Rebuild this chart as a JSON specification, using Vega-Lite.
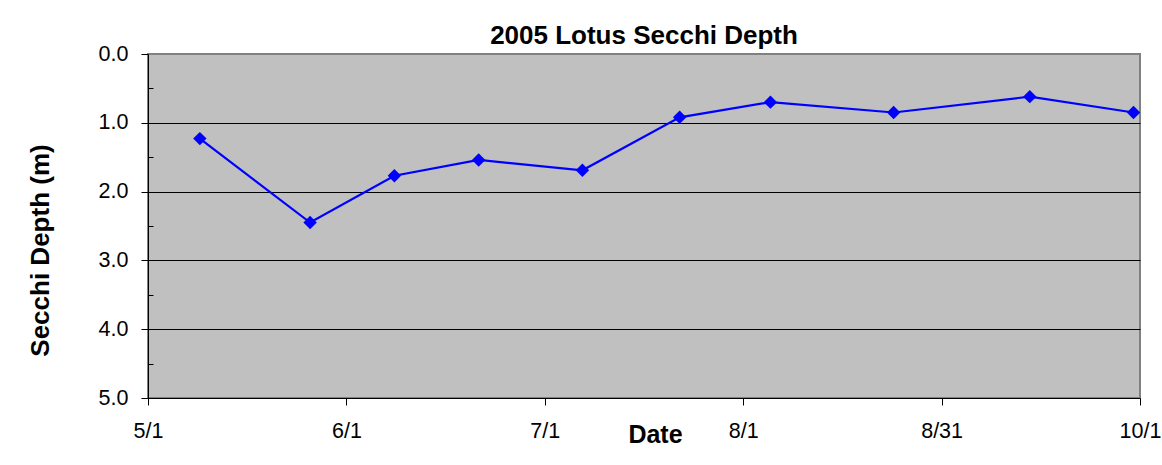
{
  "$schema": "https://vega.github.io/schema/vega-lite/v6.json",
  "width": 992,
  "height": 344,
  "autosize": {"type": "none"},
  "padding": {"left": 148, "top": 54, "right": 22, "bottom": 67},
  "background": "white",
  "config": {
    "view": {"fill": "#C0C0C0", "stroke": "#808080", "strokeWidth": 2},
    "font": "Liberation Sans"
  },
  "title": {
    "text": "2005 Lotus Secchi Depth",
    "font": "Liberation Sans",
    "fontSize": 26,
    "fontWeight": "bold",
    "color": "black",
    "anchor": "middle",
    "baseline": "alphabetic",
    "offset": 10,
    "dy": 37
  },
  "data": {
    "values": [
      {"date": "2005-05-09", "depth": 1.23},
      {"date": "2005-05-26", "depth": 2.45},
      {"date": "2005-06-08", "depth": 1.77},
      {"date": "2005-06-21", "depth": 1.54},
      {"date": "2005-07-07", "depth": 1.69},
      {"date": "2005-07-22", "depth": 0.92},
      {"date": "2005-08-05", "depth": 0.70},
      {"date": "2005-08-24", "depth": 0.85},
      {"date": "2005-09-14", "depth": 0.62},
      {"date": "2005-09-30", "depth": 0.85}
    ]
  },
  "encoding": {
    "x": {
      "field": "date",
      "type": "temporal",
      "scale": {
        "type": "utc",
        "domain": [
          {"year": 2005, "month": 5, "date": 1, "utc": true},
          {"year": 2005, "month": 10, "date": 1, "utc": true}
        ]
      },
      "axis": {
        "title": "Date",
        "values": [
          {"year": 2005, "month": 5, "date": 1, "utc": true},
          {"year": 2005, "month": 5, "date": 31, "hours": 14, "minutes": 24, "utc": true},
          {"year": 2005, "month": 7, "date": 1, "hours": 4, "minutes": 48, "utc": true},
          {"year": 2005, "month": 7, "date": 31, "hours": 19, "minutes": 12, "utc": true},
          {"year": 2005, "month": 8, "date": 31, "hours": 9, "minutes": 36, "utc": true},
          {"year": 2005, "month": 10, "date": 1, "utc": true}
        ],
        "labelExpr": "utcFormat(datum.value + 43200000, '%-m/%-d')",
        "grid": false,
        "labelFont": "Liberation Sans",
        "labelFontSize": 21.5,
        "labelColor": "black",
        "labelPadding": 15,
        "labelOverlap": false,
        "labelBound": false,
        "labelFlush": false,
        "tickColor": "black",
        "tickSize": 7,
        "domainColor": "black",
        "titleFont": "Liberation Sans",
        "titleFontSize": 25,
        "titleFontWeight": "bold",
        "titleColor": "black",
        "titleX": 507,
        "titleY": 44,
        "titleBaseline": "alphabetic",
        "titleAlign": "center"
      }
    },
    "y": {
      "field": "depth",
      "type": "quantitative",
      "scale": {"domain": [0, 5], "reverse": true, "nice": false, "zero": false},
      "axis": {
        "title": "Secchi Depth (m)",
        "values": [0, 0.5, 1, 1.5, 2, 2.5, 3, 3.5, 4, 4.5, 5],
        "labelExpr": "datum.value % 1 === 0 ? format(datum.value, '.1f') : ''",
        "grid": true,
        "gridColor": "black",
        "gridOpacity": {"condition": {"test": "datum.value > 0 && datum.value < 5 && datum.value % 1 === 0", "value": 1}, "value": 0},
        "tickSize": {"condition": {"test": "datum.value % 1 !== 0", "value": -5}, "value": 7},
        "tickColor": "black",
        "domainColor": "black",
        "labelFont": "Liberation Sans",
        "labelFontSize": 21.5,
        "labelColor": "black",
        "labelPadding": 13,
        "labelOverlap": false,
        "labelBound": false,
        "labelFlush": false,
        "titleFont": "Liberation Sans",
        "titleFontSize": 26,
        "titleFontWeight": "bold",
        "titleColor": "black",
        "titleAngle": -90,
        "titleX": -108,
        "titleY": 196,
        "titleAlign": "center",
        "titleBaseline": "middle"
      }
    }
  },
  "layer": [
    {"mark": {"type": "line", "color": "#0000FF", "strokeWidth": 2.2}},
    {"mark": {"type": "point", "shape": "diamond", "filled": true, "color": "#0000FF", "size": 180, "opacity": 1}}
  ]
}
